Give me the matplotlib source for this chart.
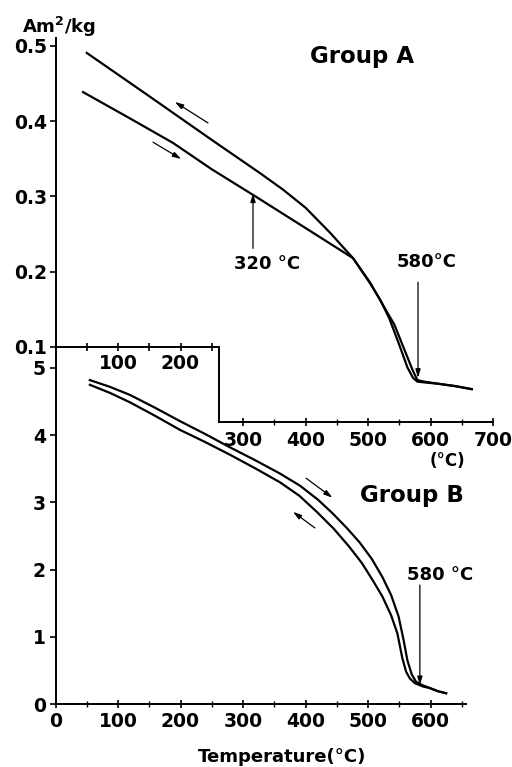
import matplotlib
matplotlib.use("Agg")
import matplotlib.pyplot as plt
from matplotlib.ticker import FixedLocator

# ---------------- data ----------------
# Group A  (magnetisation, Am^2/kg)
a_heat_T = [44, 116, 188, 250, 316, 400, 476, 503, 530, 542, 558, 571, 579, 590, 614,
            640, 666]
a_heat_M = [0.4385, 0.405, 0.371, 0.336, 0.302, 0.258, 0.218, 0.186, 0.147, 0.130,
            0.097, 0.070, 0.056, 0.054, 0.051, 0.048, 0.044]
a_cool_T = [666, 640, 614, 590, 579, 572, 563, 550, 534, 520, 503, 476, 439, 400, 364,
            327, 250, 150, 50]
a_cool_M = [0.044, 0.048, 0.051, 0.053, 0.054, 0.059, 0.073, 0.103, 0.138, 0.162,
            0.185, 0.218, 0.252, 0.285, 0.309, 0.331, 0.375, 0.433, 0.4905]

# Group B
b_heat_T = [55, 87, 119, 159, 199, 239, 279, 319, 359, 391, 420, 443, 466, 487, 506,
            523, 537, 549, 557, 563, 570, 577, 587, 598, 612, 625]
b_heat_M = [4.82, 4.72, 4.60, 4.41, 4.21, 4.02, 3.82, 3.63, 3.43, 3.25, 3.04, 2.84,
            2.62, 2.40, 2.16, 1.89, 1.62, 1.30, 0.95, 0.65, 0.44, 0.33, 0.28, 0.24,
            0.19, 0.16]
b_cool_T = [625, 612, 598, 588, 575, 567, 561, 555, 547, 537, 523, 507, 490, 470, 445,
            418, 390, 359, 319, 279, 239, 199, 159, 119, 87, 55]
b_cool_M = [0.16, 0.19, 0.24, 0.26, 0.31, 0.38, 0.48, 0.68, 1.05, 1.32, 1.60, 1.85,
            2.10, 2.34, 2.61, 2.86, 3.10, 3.30, 3.51, 3.71, 3.90, 4.08, 4.29, 4.49,
            4.63, 4.75]

a_yticks = [0.1, 0.2, 0.3, 0.4, 0.5]
a_xticks_upper = [100, 200]
a_xticks_lower = [300, 400, 500, 600, 700]
b_yticks = [0, 1, 2, 3, 4, 5]
b_xticks = [0, 100, 200, 300, 400, 500, 600]

a_curie = 580
a_mark = 320
b_curie = 580

# ---------------- style ----------------
plt.rcParams['font.family'] = ['DejaVu Sans']
plt.rcParams['font.weight'] = 'bold'
plt.rcParams['mathtext.fontset'] = 'custom'
plt.rcParams['mathtext.bf'] = 'DejaVu Sans:bold'
plt.rcParams['mathtext.rm'] = 'DejaVu Sans:bold'

LW = 1.6
TS = 13.5

fig = plt.figure(figsize=(5.12, 7.67), dpi=100)
W, H = 512.0, 767.0
x0 = 55.5 / W
xw = 437.5 / W

axB = fig.add_axes([x0, (H - 704) / H, xw, 369.6 / H])
axA = fig.add_axes([x0, (H - 422.3) / H, xw, 391.6 / H])
for ax in (axA, axB):
    ax.patch.set_visible(False)
    ax.set_xlim(0, 700)
    for s in ('top', 'right'):
        ax.spines[s].set_visible(False)
    ax.spines['left'].set_linewidth(1.4)
    ax.spines['bottom'].set_linewidth(1.4)
axA.set_zorder(3)

# ---------------- Group A ----------------
axA.set_ylim(0, 0.52)
axA.plot(a_heat_T, a_heat_M, color='black', lw=LW, solid_joinstyle='round')
axA.plot(a_cool_T, a_cool_M, color='black', lw=LW, solid_joinstyle='round')
axA.spines['left'].set_bounds(0.1, 0.51)
axA.spines['bottom'].set_bounds(261, 700)
axA.set_yticks(a_yticks)
axA.set_yticklabels([f"{v:.1f}" for v in a_yticks])
axA.set_xticks(a_xticks_lower)
axA.xaxis.set_minor_locator(FixedLocator([350, 450, 550, 650]))
axA.tick_params(axis='y', direction='out', length=4, width=1.2, labelsize=TS, pad=2)
axA.tick_params(axis='x', which='major', direction='inout', length=6, width=1.2,
                labelsize=TS, pad=3)
axA.tick_params(axis='x', which='minor', direction='inout', length=5, width=1.0)
# stepped upper segment of the x axis
axA.plot([0, 261, 261], [0.1, 0.1, 0.0], color='black', lw=1.4, clip_on=False,
         solid_joinstyle='miter')
axA.plot([50, 100, 150, 200, 250], [0.1] * 5, ls='none', marker='|', ms=6,
         mew=1.2, color='black', clip_on=False)
for v in a_xticks_upper:
    axA.annotate(str(v), (v, 0.1), xytext=(0, -5), textcoords='offset points',
                 ha='center', va='top', fontsize=TS, fontweight='bold')
axA.text(6, 0.517, "Am$^{\\mathbf{2}}$/kg", ha='center', va='baseline',
         fontsize=13, fontweight='bold')
axA.text(627, -0.058, "(°C)", ha='center', va='baseline', fontsize=12,
         fontweight='bold')
axA.text(491, 0.477, "Group A", ha='center', va='baseline', fontsize=16.5,
         fontweight='bold')
# heating / cooling arrows
arr = dict(arrowstyle='-|>,head_length=0.5,head_width=0.15', lw=0.9, color='black',
           shrinkA=0, shrinkB=0)
axA.annotate('', xy=(191, 0.4254), xytext=(244, 0.3975), arrowprops=arr)
axA.annotate('', xy=(201, 0.3496), xytext=(156, 0.372), arrowprops=arr)
# 320 C marker
axA.annotate('', xy=(a_mark - 4, 0.304), xytext=(a_mark - 4, 0.231), arrowprops=arr)
axA.text(a_mark + 18, 0.2035, f"{a_mark} °C", ha='center', va='baseline',
         fontsize=13, fontweight='bold')
# 580 C marker
axA.annotate('', xy=(a_curie, 0.059), xytext=(a_curie, 0.186), arrowprops=arr)
axA.text(a_curie + 13, 0.206, f"{a_curie}°C", ha='center', va='baseline',
         fontsize=13, fontweight='bold')

# ---------------- Group B ----------------
axB.set_ylim(0, 5.5)
axB.plot(b_heat_T, b_heat_M, color='black', lw=LW, solid_joinstyle='round')
axB.plot(b_cool_T, b_cool_M, color='black', lw=LW, solid_joinstyle='round')
axB.spines['left'].set_bounds(0, 5.3)
axB.spines['bottom'].set_bounds(0, 657)
axB.set_yticks(b_yticks)
axB.set_xticks(b_xticks)
axB.xaxis.set_minor_locator(FixedLocator([50, 150, 250, 350, 450, 550, 650]))
axB.tick_params(axis='y', direction='out', length=4, width=1.2, labelsize=TS, pad=3)
axB.tick_params(axis='x', which='major', direction='inout', length=6, width=1.2,
                labelsize=TS, pad=3)
axB.tick_params(axis='x', which='minor', direction='inout', length=5, width=1.0)
axB.text(571, 3.006, "Group B", ha='center', va='baseline', fontsize=16.5,
         fontweight='bold')
axB.annotate('', xy=(443, 3.07), xytext=(401, 3.36), arrowprops=arr)
axB.annotate('', xy=(380, 2.86), xytext=(415, 2.62), arrowprops=arr)
axB.annotate('', xy=(b_curie + 3, 0.28), xytext=(b_curie + 3, 1.77), arrowprops=arr)
axB.text(b_curie + 35, 1.845, f"{b_curie} °C", ha='center', va='baseline',
         fontsize=13, fontweight='bold')
axB.set_xlabel("Temperature(°C)", fontsize=13, fontweight='bold')
axB.xaxis.set_label_coords(0.517, -0.118)

fig.savefig("out.png", dpi=100)
